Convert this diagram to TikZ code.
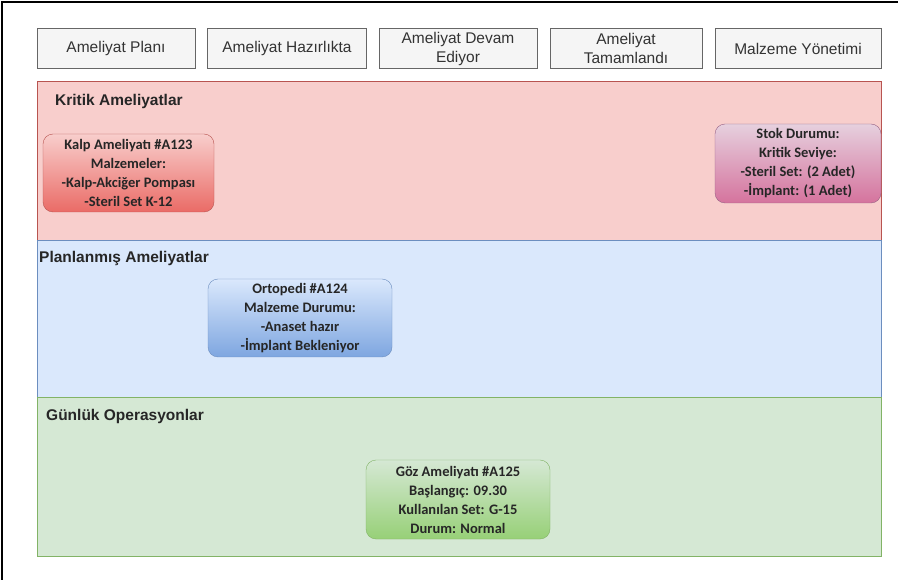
\documentclass[tikz,border=0pt]{standalone}
\usepackage{fontspec}
\setmainfont{Liberation Sans}
\newfontfamily\cardfont{Carlito}
\usetikzlibrary{
  positioning,
  shapes,
}
\definecolor{headfill}{RGB}{245,245,245}
\definecolor{headline}{RGB}{102,102,102}
\definecolor{redfill}{RGB}{248,206,204}
\definecolor{redline}{RGB}{184,84,80}
\definecolor{reddeep}{RGB}{234,107,102}
\definecolor{bluefill}{RGB}{218,232,252}
\definecolor{blueline}{RGB}{108,142,191}
\definecolor{bluedeep}{RGB}{126,166,224}
\definecolor{greenfill}{RGB}{213,232,212}
\definecolor{greenline}{RGB}{130,179,102}
\definecolor{greendeep}{RGB}{151,208,119}
\definecolor{pinkfill}{RGB}{230,208,222}
\definecolor{pinkline}{RGB}{150,97,133}
\definecolor{pinkdeep}{RGB}{213,115,157}
\tikzstyle{header} = [
  rectangle,
  draw=headline,
  fill=headfill,
  minimum height=40,
  inner sep=0,
  align=center,
  text=black!80,
  font=\fontsize{15.5}{19}\selectfont,
]
\tikzstyle{lane} = [
  rectangle,
  draw,
  minimum width=844,
]
\tikzstyle{lanetitle} = [
  anchor=west,
  inner sep=0,
  text=black!85,
  font=\fontsize{15.5}{18}\selectfont\bfseries,
]
\tikzstyle{card} = [
  rectangle,
  rounded corners=10,
  draw,
  inner sep=0,
  align=center,
  text=black!85,
  font=\cardfont\fontsize{14.5}{19}\selectfont\bfseries,
]

\begin{document}
\begin{tikzpicture}[x=1pt,y=-1pt]

      \useasboundingbox (0,0) rectangle (898,580);
      \draw[line width=1.2pt] (2,580) -- (2,2) -- (898,2);

      % status headers
      \node[header,minimum width=158] (plan) at (116,48.5) {Ameliyat Planı};
      \node[header,minimum width=159] (hazir) at (287,48.5) {Ameliyat Hazırlıkta};
      \node[header,minimum width=158] (devam) at (458,48.5) {Ameliyat Devam\\Ediyor};
      \node[header,minimum width=152] (tamam) at (626,48.5) {Ameliyat\\Tamamlandı};
      \node[header,minimum width=166] (malzeme) at (798,48.5) {Malzeme Yönetimi};

      % lanes
      \node[lane,minimum height=159,draw=redline,fill=redfill] (kritik) at (459,160.5) {};
      \node[lane,minimum height=157,draw=blueline,fill=bluefill] (planli) at (459,318.5) {};
      \node[lane,minimum height=159,draw=greenline,fill=greenfill] (gunluk) at (459,476.5) {};

      \node[lanetitle] (kritiktitle) at (55,101) {Kritik Ameliyatlar};
      \node[lanetitle] (planlititle) at (39,258) {Planlanmış Ameliyatlar};
      \node[lanetitle] (gunluktitle) at (46,416) {Günlük Operasyonlar};

      % cards
      \node[card,minimum width=171,minimum height=78,draw=redline,top color=redfill,bottom color=reddeep] (kalp) at (128.5,173) {Kalp Ameliyatı \#A123\\Malzemeler:\\-Kalp-Akciğer Pompası\\-Steril Set K-12};
      \node[card,minimum width=166,minimum height=79,draw=pinkline,top color=pinkfill,bottom color=pinkdeep] (stok) at (798,163.5) {Stok Durumu:\\Kritik Seviye:\\-Steril Set: (2 Adet)\\-İmplant: (1 Adet)};
      \node[card,minimum width=184,minimum height=78,draw=blueline,top color=bluefill,bottom color=bluedeep] (ortopedi) at (300,318) {Ortopedi \#A124\\Malzeme Durumu:\\-Anaset hazır\\-İmplant Bekleniyor};
      \node[card,minimum width=184,minimum height=79,draw=greenline,top color=greenfill,bottom color=greendeep] (goz) at (458,499.5) {Göz Ameliyatı \#A125\\Başlangıç: 09.30\\Kullanılan Set: G-15\\Durum: Normal};
      \end{tikzpicture}
\end{document}
